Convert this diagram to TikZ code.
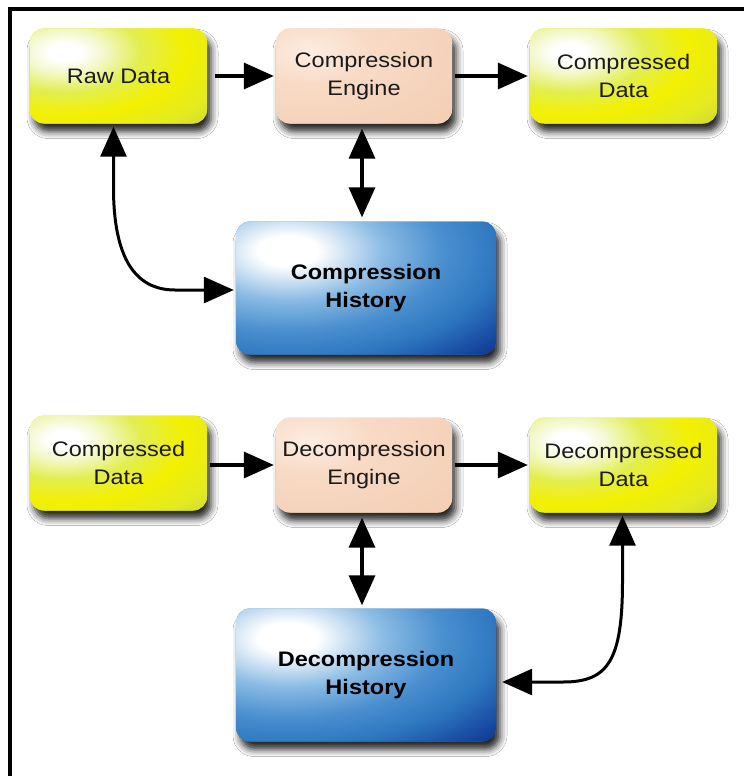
\documentclass[tikz,border=0pt]{standalone}
\usepackage{fontspec}
\newfontfamily\labfont{Liberation Sans}[FakeStretch=1.12]
\usetikzlibrary{arrows.meta,shadows.blur,calc}
\definecolor{yel0}{HTML}{F3F8C8}
\definecolor{yel1}{HTML}{E2EE50}
\definecolor{yel2}{HTML}{F3F000}
\definecolor{yel3}{HTML}{E4EA22}
\definecolor{yel4}{HTML}{CCDA32}
\definecolor{eng0}{HTML}{FCEDE2}
\definecolor{eng1}{HTML}{F8DAC5}
\definecolor{eng2}{HTML}{F3CDB2}
\definecolor{blu1}{HTML}{8ABBE3}
\definecolor{blu2}{HTML}{4A8FCF}
\definecolor{blu3}{HTML}{2E78C0}
\definecolor{blu4}{HTML}{1A4FA5}
\definecolor{blu5}{HTML}{0A2E8C}
\definecolor{txt}{HTML}{1A1A1A}
\pgfdeclareradialshading{yelrad}{\pgfpointorigin}{color(0bp)=(white); color(2bp)=(white); color(5bp)=(yel0); color(9.5bp)=(yel1); color(15bp)=(yel2); color(21bp)=(yel3); color(25bp)=(yel4); color(50bp)=(yel4)}
\pgfdeclareradialshading{engrad}{\pgfpointorigin}{color(0bp)=(eng0); color(8bp)=(eng1); color(25bp)=(eng2); color(50bp)=(eng2)}
\pgfdeclareradialshading{blurad}{\pgfpointorigin}{color(0bp)=(white); color(2.5bp)=(white); color(8bp)=(blu1); color(13bp)=(blu2); color(17.5bp)=(blu3); color(21.5bp)=(blu4); color(25bp)=(blu5); color(50bp)=(blu5)}
\tikzset{
  boxbase/.style={rounded corners=14pt, inner sep=0pt, align=center,
    blur shadow={shadow xshift=4pt, shadow yshift=-8pt, shadow blur radius=7pt, shadow opacity=85},
    font=\labfont\fontsize{21}{28}\selectfont, text=txt},
  yelbox/.style={boxbase, fill=yel3, minimum height=95pt,
    path picture={\shade[shading=yelrad] ([shift={(-54pt,24pt)}]path picture bounding box.center) ellipse [x radius=200pt, y radius=105pt];}},
  engbox/.style={boxbase, fill=eng1, minimum width=176pt, minimum height=95pt,
    path picture={\shade[shading=engrad] ([shift={(-54pt,24pt)}]path picture bounding box.center) ellipse [x radius=200pt, y radius=105pt];}},
  histbox/.style={boxbase, fill=blu3, minimum width=260pt, minimum height=133pt,
    font=\labfont\bfseries\fontsize{21}{28}\selectfont, text=black,
    path picture={\shade[shading=blurad] ([shift={(-78pt,37pt)}]path picture bounding box.center) ellipse [x radius=299pt, y radius=153pt];}},
  arr/.style={line width=3.5pt, -{Triangle[length=30pt,width=26pt]}},
  darr/.style={line width=3.5pt, {Triangle[length=30pt,width=26pt]}-{Triangle[length=30pt,width=26pt]}},
  carr/.style={line width=3pt, {Triangle[length=30pt,width=26pt]}-{Triangle[length=30pt,width=26pt]}}
}
\begin{document}
\begin{tikzpicture}[x=1pt,y=-1pt]
\useasboundingbox (0,0) rectangle (744,776);
\fill[white] (0,0) rectangle (744,776);
\draw[line width=4pt] (10,776) -- (10,9) -- (744,9);

% compression
\node[yelbox, minimum width=177pt] (rd) at (118.5,76) {Raw Data};
\node[engbox] (ce) at (364,76) {Compression\\Engine};
\node[yelbox, minimum width=187pt] (cd) at (623.5,76) {Compressed\\Data};
\node[histbox] (ch) at (366,288) {Compression\\History};

\draw[arr, shorten <=8pt, shorten >=2pt] (rd.east) -- (ce.west);
\draw[arr, shorten <=3pt, shorten >=2pt] (ce.east) -- (cd.west);
\draw[darr, shorten <=5pt, shorten >=4pt] ([xshift=-2pt]ce.south) -- ([xshift=-2pt]ce.south |- ch.north);
\coordinate (k1) at (175,290);
\draw[carr, shorten <=3pt, shorten >=2pt] ([xshift=-5pt]rd.south) -- ++(0,64)
  .. controls +(0,70) and +(-40,0) .. (k1) -- ([yshift=-2pt]ch.west);

% decompression
\node[yelbox, minimum width=177pt] (cd2) at (118.5,463) {Compressed\\Data};
\node[engbox] (de) at (364,465) {Decompression\\Engine};
\node[yelbox, minimum width=187pt] (dd) at (623.5,465) {Decompressed\\Data};
\node[histbox] (dh) at (366,675) {Decompression\\History};

\draw[arr, shorten <=3pt, shorten >=2pt] (cd2.east |- de.west) -- (de.west);
\draw[arr, shorten <=3pt, shorten >=2pt] (de.east) -- (dd.west);
\draw[darr, shorten <=5pt, shorten >=3pt] ([xshift=-2pt]de.south) -- ([xshift=-2pt]de.south |- dh.north);
\coordinate (k2) at (563,682);
\draw[carr, shorten <=3pt, shorten >=6pt] ([xshift=-1pt]dd.south) -- ++(0,68)
  .. controls +(0,80) and +(45,0) .. (k2) -- ([yshift=-7pt]dh.east);
\end{tikzpicture}
\end{document}
